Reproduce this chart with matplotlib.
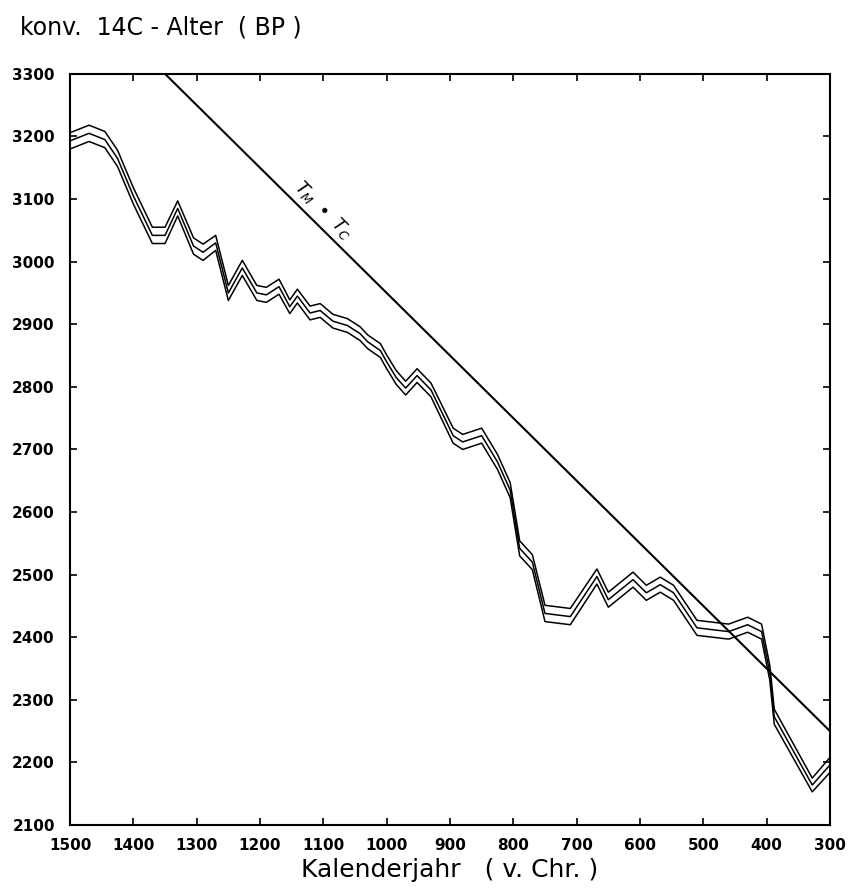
import matplotlib
matplotlib.use('Agg')
from matplotlib import pyplot as plt

# Kalenderjahr v. Chr. und konventionelles 14C-Alter (BP), Mittelkurve
jahr = [1500, 1470, 1445, 1425, 1400, 1370, 1350, 1330, 1305, 1290, 1270, 1250,
        1228, 1205, 1190, 1170, 1153, 1141, 1121, 1105, 1085, 1062, 1042, 1030,
        1010, 1000, 985, 970, 952, 930, 895, 880, 850, 825, 805, 790, 770, 750,
        710, 668, 650, 611, 590, 568, 547, 510, 460, 430, 408, 395, 388, 328, 300]
alter = [3193, 3205, 3195, 3165, 3105, 3042, 3042, 3085, 3025, 3015, 3030, 2950,
         2990, 2950, 2947, 2960, 2928, 2945, 2918, 2922, 2905, 2898, 2885, 2872,
         2858, 2840, 2815, 2798, 2818, 2795, 2722, 2712, 2722, 2680, 2635, 2542,
         2520, 2438, 2433, 2497, 2460, 2492, 2471, 2484, 2471, 2415, 2409, 2420,
         2409, 2343, 2273, 2164, 2196]
# Fehlerband (1 sigma)
sigma = [13, 13, 13, 13, 13, 13, 13, 12, 13, 13, 12, 12,
         12, 12, 12, 12, 11, 11, 11, 11, 11, 11, 11, 11,
         11, 11, 11, 11, 11, 11, 12, 12, 12, 12, 12, 12,
         12, 13, 13, 12, 12, 12, 12, 12, 12, 12, 12, 12,
         12, 12, 12, 11, 12]

# Gerade T_M = T_C
gerade_jahr = [1350, 300]
gerade_alter = [3300, 2250]

oben = [a + s for a, s in zip(alter, sigma)]
unten = [a - s for a, s in zip(alter, sigma)]

fig = plt.figure(figsize=(8.51, 8.90), dpi=100)
ax = fig.add_axes([0.0823, 0.073, 0.893, 0.844])

for y in (oben, alter, unten):
    ax.plot(jahr, y, color='black', lw=1.1)
ax.plot(gerade_jahr, gerade_alter, color='black', lw=1.5)

ax.text(1100, 3082, r'$T_M\ \bullet\ T_C$', rotation=-45, ha='center', va='center',
        fontsize=13)

ax.set_xlim(1500, 300)
ax.set_ylim(2100, 3300)
ax.set_xticks(range(1500, 299, -100))
ax.set_yticks(range(2100, 3301, 100))
ax.tick_params(direction='in', top=True, right=True, length=5, width=1.2,
               labelsize=11)
ax.tick_params(axis='x', pad=9)
ax.tick_params(axis='y', pad=11)
for lab in ax.get_xticklabels() + ax.get_yticklabels():
    lab.set_fontweight('bold')
for s in ax.spines.values():
    s.set_linewidth(1.5)

ax.set_xlabel('Kalenderjahr   ( v. Chr. )', fontsize=18, labelpad=4)
fig.text(0.024, 0.969, 'konv.  14C - Alter  ( BP )', fontsize=17, va='center')

plt.savefig('out.png', dpi=100)
